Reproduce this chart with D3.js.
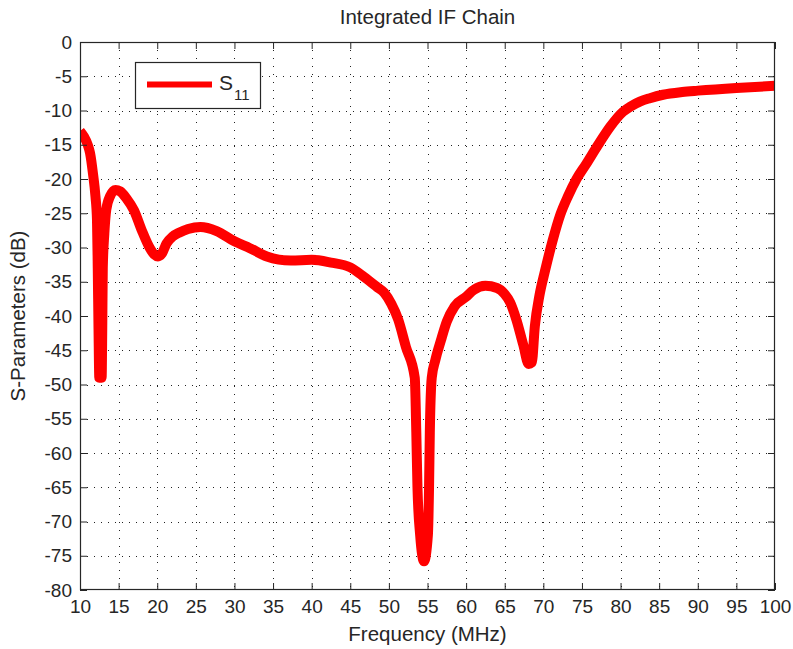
<!DOCTYPE html>
<html><head><meta charset="utf-8">
<script src="https://cdn.jsdelivr.net/npm/d3@7"></script>
<style>body{margin:0;background:#fff}svg{display:block}text{font-family:"Liberation Sans",Arial,sans-serif;fill:#262626}</style>
</head><body><svg id="c" width="793" height="649"></svg>
<script>
// ---- data ----
const title = "Integrated IF Chain";
const xLabel = "Frequency (MHz)";
const yLabel = "S-Parameters (dB)";
const seriesName = "S";
const seriesSub = "11";
const xTicks = [10,15,20,25,30,35,40,45,50,55,60,65,70,75,80,85,90,95,100];
const yTicks = [0,-5,-10,-15,-20,-25,-30,-35,-40,-45,-50,-55,-60,-65,-70,-75,-80];
const freq = [10,10.5,11,11.3,11.7,12.0,12.2,12.3,12.4,12.5,12.8,12.88,12.95,13.15,13.4,13.9,14.6,15.2,16.0,17,18,19,19.6,20.1,20.6,21.2,22,22.9,24,25.6,27.7,30,32,34.2,37.3,40,42.5,45,46.8,48.5,49.4,50.3,51.2,52.2,53.35,53.55,53.7,54.05,54.55,55.05,55.2,55.3,55.55,56.0,56.75,57.5,58.5,60,61,62.5,64,65,65.7,66.5,67.4,68.1,68.5,68.9,69.5,70.2,71.2,72.2,73.2,74.3,75.5,77.1,78.7,80.3,81.3,82.5,83.8,85.5,88,90,95,100];
const s11 = [-13,-13.8,-15,-16.2,-19.4,-22.5,-26,-33,-42,-49,-49,-42,-33,-28,-24.5,-22.5,-21.6,-21.8,-22.8,-24.6,-27.5,-30,-31,-31.3,-30.9,-29.4,-28.4,-27.8,-27.3,-27,-27.6,-29.1,-30.1,-31.3,-31.9,-31.8,-32.2,-32.9,-34.3,-35.8,-36.6,-38.2,-40.5,-44.5,-49,-57,-65,-72,-75.8,-72,-65,-57,-49,-46.5,-43.5,-40.8,-38.6,-37.2,-36.2,-35.6,-35.9,-36.8,-38,-40.5,-44.2,-47,-46.8,-41.5,-37,-33.5,-29,-25.2,-22.5,-20,-17.9,-15,-12.3,-10.2,-9.4,-8.7,-8.2,-7.7,-7.3,-7.1,-6.7,-6.4];

// ---- layout ----
const L = 80, R = 775, T = 42, B = 590;
const svg = d3.select("#c");
const x = d3.scaleLinear().domain([10,100]).range([L,R]);
const y = d3.scaleLinear().domain([-80,0]).range([B,T]);
const axisColor = "#262626";
const fs = 19, lfs = 20.5;

// grid
const grid = svg.append("g").attr("stroke","#222").attr("stroke-width",1);
grid.selectAll("line.vx").data(xTicks.slice(1,-1)).join("line").attr("stroke-dasharray","1,7")
  .attr("x1",d=>Math.round(x(d))+0.5).attr("x2",d=>Math.round(x(d))+0.5).attr("y1",T).attr("y2",B);
grid.selectAll("line.hy").data(yTicks.slice(1,-1)).join("line").attr("stroke-dasharray","1,6")
  .attr("y1",d=>Math.round(y(d))+0.5).attr("y2",d=>Math.round(y(d))+0.5).attr("x1",L).attr("x2",R);

// curve
svg.append("clipPath").attr("id","clip").append("rect").attr("x",L).attr("y",T).attr("width",R-L).attr("height",B-T);
const pts = freq.map((f,i)=>[f,s11[i]]);
const line = d3.line().curve(d3.curveMonotoneX).x(d=>x(d[0])).y(d=>y(d[1]));
svg.append("path").attr("clip-path","url(#clip)").attr("d",line(pts))
  .attr("fill","none").attr("stroke","#ff0000").attr("stroke-width",10)
  .attr("stroke-linejoin","round").attr("stroke-linecap","butt");

// axes with inward ticks
const fmt = d=>String(d);
function styleAxis(g){ g.select(".domain").remove(); g.selectAll(".tick line").attr("stroke",axisColor); g.selectAll("text").attr("font-size",fs).attr("fill",axisColor).attr("font-family",'"Liberation Sans",Arial,sans-serif'); }
const gb = svg.append("g").attr("transform",`translate(0,${B})`)
  .call(d3.axisBottom(x).tickValues(xTicks).tickFormat(fmt).tickSizeInner(-7).tickSizeOuter(0));
styleAxis(gb); gb.selectAll("text").attr("dy","0.72em").attr("y",9);
const gt = svg.append("g").attr("transform",`translate(0,${T})`)
  .call(d3.axisTop(x).tickValues(xTicks).tickFormat("").tickSizeInner(-7).tickSizeOuter(0));
styleAxis(gt);
const gl = svg.append("g").attr("transform",`translate(${L},0)`)
  .call(d3.axisLeft(y).tickValues(yTicks).tickFormat(fmt).tickSizeInner(-7).tickSizeOuter(0));
styleAxis(gl); gl.selectAll("text").attr("x",-8);
const gr = svg.append("g").attr("transform",`translate(${R},0)`)
  .call(d3.axisRight(y).tickValues(yTicks).tickFormat("").tickSizeInner(-7).tickSizeOuter(0));
styleAxis(gr);

// box
svg.append("rect").attr("x",L+0.5).attr("y",T+0.5).attr("width",R-L-1).attr("height",B-T-1)
  .attr("fill","none").attr("stroke",axisColor).attr("stroke-width",1.2);

// labels
svg.append("text").attr("x",(L+R)/2).attr("y",24).attr("text-anchor","middle").attr("font-size",lfs).text(title);
svg.append("text").attr("x",(L+R)/2).attr("y",641).attr("text-anchor","middle").attr("font-size",lfs).text(xLabel);
svg.append("text").attr("transform",`translate(25,${(T+B)/2}) rotate(-90)`).attr("text-anchor","middle").attr("font-size",lfs).text(yLabel);

// legend
const lg = svg.append("g");
lg.append("rect").attr("x",135.5).attr("y",62.5).attr("width",125).attr("height",46)
  .attr("fill","#fff").attr("stroke",axisColor).attr("stroke-width",1.2);
lg.append("line").attr("x1",147).attr("x2",212).attr("y1",84.5).attr("y2",84.5).attr("stroke","#ff0000").attr("stroke-width",6);
const lt = lg.append("text").attr("x",219).attr("y",90).attr("font-size",21);
lt.append("tspan").text(seriesName);
lt.append("tspan").attr("font-size",15).attr("dy",10).attr("dx",1).text(seriesSub);
</script></body></html>
